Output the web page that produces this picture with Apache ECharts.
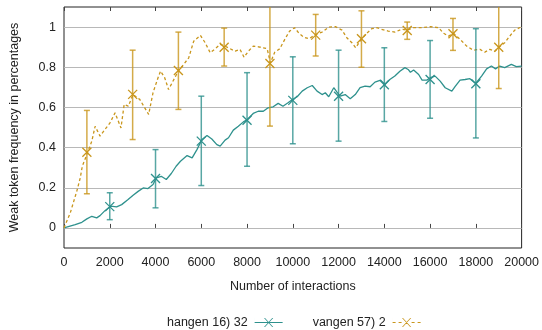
<!DOCTYPE html>
<html>
<head>
<meta charset="utf-8">
<script src="https://cdn.jsdelivr.net/npm/echarts@6/dist/echarts.min.js"></script>
<style>
  html, body { margin: 0; padding: 0; background: #fff; }
  #chart { width: 542px; height: 330px; }
</style>
</head>
<body>
<div id="chart"></div>
<script>
// tick labels
var xTicks = [0, 2000, 4000, 6000, 8000, 10000, 12000, 14000, 16000, 18000, 20000];
var yTicks = [0, 0.2, 0.4, 0.6, 0.8, 1];

var seriesNames = ['hangen 16) 32', 'vangen 57) 2'];

// teal curve [interactions, frequency]
var tealCurve = [
  [0, 0], [490, 0.016], [780, 0.028], [1000, 0.045], [1215, 0.058], [1430, 0.05], [1575, 0.061],
  [1790, 0.086], [2040, 0.108], [2300, 0.105], [2520, 0.116], [2800, 0.141], [3020, 0.163],
  [3240, 0.182], [3460, 0.199], [3670, 0.196], [3890, 0.216], [4036, 0.249], [4250, 0.257],
  [4470, 0.241], [4690, 0.271], [4900, 0.307], [5090, 0.332], [5160, 0.34], [5380, 0.36],
  [5600, 0.349], [5810, 0.39], [6030, 0.44], [6250, 0.46], [6460, 0.443], [6680, 0.415],
  [6825, 0.407], [7040, 0.437], [7190, 0.449], [7400, 0.487], [7620, 0.506], [7840, 0.528],
  [8010, 0.54], [8270, 0.57], [8490, 0.581], [8710, 0.581], [8920, 0.598], [9140, 0.603],
  [9360, 0.62], [9570, 0.606], [9790, 0.623], [10000, 0.64], [10190, 0.653], [10410, 0.681],
  [10630, 0.698], [10850, 0.709], [11060, 0.681], [11280, 0.664], [11420, 0.673], [11570, 0.653],
  [11790, 0.698], [11930, 0.676], [12070, 0.656], [12290, 0.664], [12510, 0.643], [12730, 0.664],
  [12940, 0.698], [13160, 0.706], [13380, 0.703], [13590, 0.726], [13840, 0.736], [14030, 0.714],
  [14240, 0.739], [14460, 0.756], [14680, 0.78], [14900, 0.798], [15040, 0.789], [15140, 0.775],
  [15280, 0.786], [15500, 0.764], [15650, 0.736], [15860, 0.736], [16010, 0.748], [16220, 0.756],
  [16440, 0.731], [16660, 0.698], [16950, 0.681], [17090, 0.703], [17310, 0.736], [17530, 0.739],
  [17740, 0.743], [17990, 0.719], [18250, 0.756], [18470, 0.792], [18680, 0.806], [18860, 0.792],
  [19040, 0.806], [19260, 0.798], [19550, 0.814], [19770, 0.803], [20000, 0.806]
];

// gold curve
var goldCurve = [
  [0, 0], [275, 0.075], [560, 0.183], [710, 0.249], [800, 0.307], [1030, 0.375], [1215, 0.432],
  [1360, 0.506], [1575, 0.457], [1790, 0.49], [2010, 0.523], [2230, 0.573], [2490, 0.498],
  [2630, 0.615], [2810, 0.606], [3020, 0.664], [3310, 0.64], [3530, 0.598], [3700, 0.565],
  [3890, 0.673], [4110, 0.748], [4220, 0.781], [4400, 0.748], [4570, 0.689], [4760, 0.73],
  [5010, 0.784], [5230, 0.814], [5450, 0.847], [5670, 0.93], [5960, 0.959], [6170, 0.922],
  [6390, 0.872], [6610, 0.892], [6830, 0.914], [7040, 0.905], [7260, 0.892], [7480, 0.88],
  [7690, 0.889], [7870, 0.85], [8060, 0.88], [8270, 0.905], [8490, 0.902], [8710, 0.897],
  [8880, 0.892], [9020, 0.822], [9210, 0.875], [9430, 0.892], [9650, 0.939], [9860, 0.98],
  [10080, 0.997], [10270, 0.969], [10480, 0.95], [10700, 0.942], [11020, 0.964], [11280, 0.975],
  [11570, 1.0], [11860, 1.002], [12150, 0.985], [12360, 0.947], [12580, 0.922], [12750, 0.897],
  [13010, 0.942], [13230, 0.969], [13450, 0.992], [13670, 0.997], [13880, 0.989], [14170, 0.98],
  [14460, 0.975], [14750, 0.989], [15010, 0.985], [15280, 0.997], [15650, 0.997], [16010, 1.002],
  [16370, 0.997], [16590, 0.969], [16800, 0.955], [17020, 0.969], [17310, 0.939], [17600, 0.905],
  [17890, 0.885], [18180, 0.889], [18390, 0.875], [18610, 0.889], [18830, 0.88], [19040, 0.902],
  [19260, 0.922], [19480, 0.955], [19700, 0.985], [20000, 1.002]
];

// error bars
var tealBarX = [2000, 4000, 6000, 8000, 10000, 12000, 14000, 16000, 18000];
var tealBarMid = [0.106, 0.246, 0.432, 0.536, 0.635, 0.656, 0.713, 0.739, 0.718];
var tealBarLo = [0.041, 0.10, 0.211, 0.307, 0.419, 0.432, 0.53, 0.546, 0.448];
var tealBarHi = [0.175, 0.39, 0.656, 0.773, 0.852, 0.885, 0.897, 0.933, 0.992];

var goldBarX = [1000, 3000, 5000, 7000, 9000, 11000, 13000, 15000, 17000, 19000];
var goldBarMid = [0.377, 0.665, 0.784, 0.90, 0.819, 0.96, 0.942, 0.983, 0.967, 0.90];
var goldBarLo = [0.17, 0.44, 0.59, 0.806, 0.507, 0.856, 0.80, 0.939, 0.884, 0.694];
var goldBarHi = [0.585, 0.885, 0.975, 0.995, 1.13, 1.063, 1.081, 1.025, 1.043, 1.106];

var TEAL = '#2e918d';
var GOLD = '#c9961c';
var FONT = 'Liberation Sans';

function bars(xs, mid, lo, hi) {
  var out = [];
  for (var i = 0; i < xs.length; i++) out.push([xs[i], mid[i], lo[i], hi[i]]);
  return out;
}

function barRenderer(color) {
  return function (params, api) {
    var x = api.value(0);
    var pMid = api.coord([x, api.value(1)]);
    var pLo = api.coord([x, api.value(2)]);
    var pHi = api.coord([x, api.value(3)]);
    var cap = 3, m = 4.5;
    var barStyle = { stroke: color, lineWidth: 1.5, opacity: 0.8 };
    var mkStyle = { stroke: color, lineWidth: 1.3 };
    return {
      type: 'group',
      children: [
        { type: 'line', shape: { x1: pLo[0], y1: pLo[1], x2: pHi[0], y2: pHi[1] }, style: barStyle },
        { type: 'line', shape: { x1: pLo[0] - cap, y1: pLo[1], x2: pLo[0] + cap, y2: pLo[1] }, style: barStyle },
        { type: 'line', shape: { x1: pHi[0] - cap, y1: pHi[1], x2: pHi[0] + cap, y2: pHi[1] }, style: barStyle },
        { type: 'line', shape: { x1: pMid[0] - m, y1: pMid[1] - m, x2: pMid[0] + m, y2: pMid[1] + m }, style: mkStyle },
        { type: 'line', shape: { x1: pMid[0] - m, y1: pMid[1] + m, x2: pMid[0] + m, y2: pMid[1] - m }, style: mkStyle }
      ]
    };
  };
}

// legend samples: line (solid / dashed) with a cross, as filled shapes in a 28x10 box
var crossPath = 'M9.4 0.6L10.4 0.6L18.6 9.4L17.6 9.4ZM17.6 0.6L18.6 0.6L10.4 9.4L9.4 9.4Z';
var solidIcon = 'path://M0 0L0.01 0L0.01 10L0 10ZM0 4.4L28 4.4L28 5.6L0 5.6Z' + crossPath;
var dashedIcon = 'path://M0 0L0.01 0L0.01 10L0 10Z' +
  'M0 4.4L3 4.4L3 5.6L0 5.6Z' +
  'M6 4.4L9 4.4L9 5.6L6 5.6Z' +
  'M19 4.4L22 4.4L22 5.6L19 5.6Z' +
  'M25 4.4L28 4.4L28 5.6L25 5.6Z' + crossPath;

var chart = echarts.init(document.getElementById('chart'));
chart.setOption({
  animation: false,
  textStyle: { fontFamily: FONT },
  grid: {
    left: 64, right: 17, top: 7, bottom: 82,
    show: true, borderColor: '#222', borderWidth: 1, backgroundColor: 'transparent'
  },
  legend: {
    left: 162,
    top: 311,
    align: 'right',
    itemWidth: 28,
    itemHeight: 10,
    itemGap: 30,
    selectedMode: false,
    itemStyle: { borderWidth: 0 },
    textStyle: { fontFamily: FONT, fontSize: 12.5, color: '#222', padding: [0, 2, 0, 0] },
    data: [
      { name: seriesNames[0], icon: solidIcon },
      { name: seriesNames[1], icon: dashedIcon }
    ]
  },
  xAxis: [{
    type: 'value',
    min: xTicks[0],
    max: xTicks[xTicks.length - 1],
    interval: 2000,
    name: 'Number of interactions',
    nameLocation: 'middle',
    nameGap: 32,
    nameTextStyle: { fontFamily: FONT, fontSize: 12.5, color: '#222' },
    axisLine: { show: false },
    axisTick: { show: true, inside: true, length: 4, lineStyle: { color: '#444' } },
    axisLabel: {
      margin: 8, fontFamily: FONT, fontSize: 12.5, color: '#222',
      formatter: function (v) { return String(v); }
    },
    splitLine: { show: false }
  }, {
    type: 'value',
    position: 'top',
    min: xTicks[0],
    max: xTicks[xTicks.length - 1],
    interval: 2000,
    axisLine: { show: false },
    axisTick: { show: true, inside: true, length: 4, lineStyle: { color: '#444' } },
    axisLabel: { show: false },
    splitLine: { show: false }
  }],
  yAxis: {
    type: 'value',
    min: -0.1,
    max: 1.1,
    name: 'Weak token frequency in percentages',
    nameLocation: 'middle',
    nameGap: 43,
    nameTextStyle: { fontFamily: FONT, fontSize: 12.5, color: '#222' },
    axisLine: { show: false },
    axisTick: { show: false, customValues: yTicks },
    axisLabel: { margin: 8, fontFamily: FONT, fontSize: 12.5, color: '#222', customValues: yTicks },
    splitLine: { show: true, lineStyle: { color: '#b8b8b8', width: 1 } }
  },
  series: [
    {
      name: seriesNames[0],
      type: 'line',
      data: tealCurve,
      showSymbol: false,
      symbol: 'none',
      color: TEAL,
      lineStyle: { color: TEAL, width: 1.3 },
      z: 3
    },
    {
      name: seriesNames[1],
      type: 'line',
      data: goldCurve,
      showSymbol: false,
      symbol: 'none',
      color: GOLD,
      lineStyle: { color: GOLD, width: 1.3, type: [3, 2.5] },
      z: 3
    },
    {
      type: 'custom',
      name: 'tealBars',
      data: bars(tealBarX, tealBarMid, tealBarLo, tealBarHi),
      encode: { x: 0, y: [1, 2, 3] },
      renderItem: barRenderer(TEAL),
      clip: true,
      z: 4
    },
    {
      type: 'custom',
      name: 'goldBars',
      data: bars(goldBarX, goldBarMid, goldBarLo, goldBarHi),
      encode: { x: 0, y: [1, 2, 3] },
      renderItem: barRenderer(GOLD),
      clip: true,
      z: 4
    }
  ]
});
</script>
</body>
</html>
